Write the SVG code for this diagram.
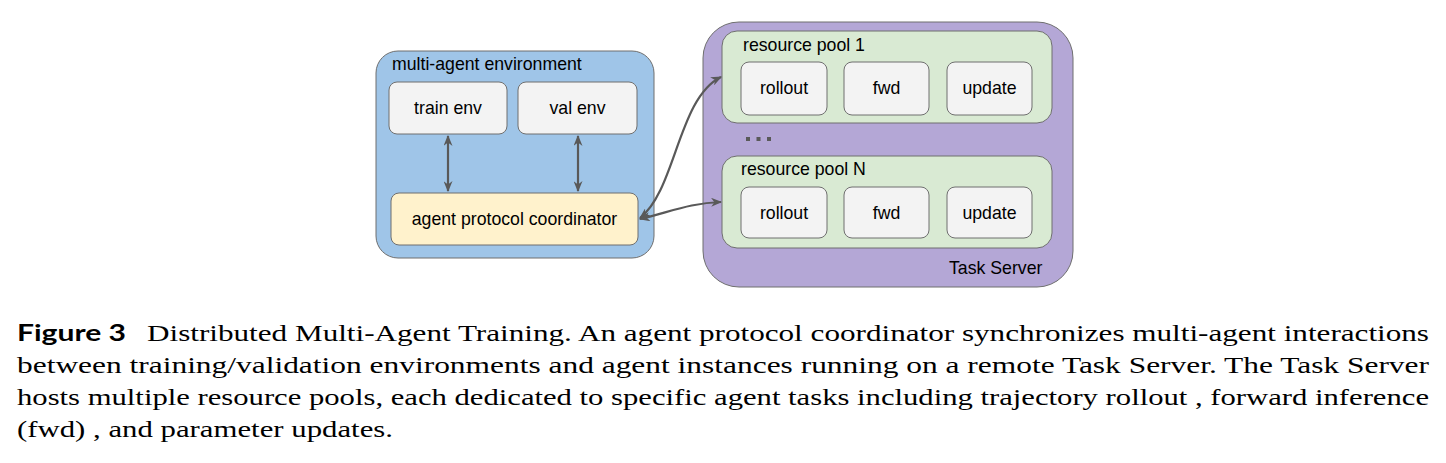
<svg xmlns="http://www.w3.org/2000/svg" width="1446" height="463" viewBox="0 0 1446 463">
<style>
.lbl{font-family:"Liberation Sans",Arial,sans-serif;font-size:17.7px;fill:#000}
.ctr{text-anchor:middle}
.box{fill:#f3f3f3;stroke:#6f6f6f;stroke-width:1}
.cap{font-family:"Liberation Serif","Times New Roman",serif;font-size:23px;fill:#000}
.conn{fill:none;stroke:#595959;stroke-width:2.2}
</style>
<defs>
<marker id="ah" viewBox="0 0 10 10" refX="9" refY="5" markerWidth="11" markerHeight="9" orient="auto-start-reverse" markerUnits="userSpaceOnUse" preserveAspectRatio="none">
<path d="M0,0 L10,5 L0,10 L3,5 Z" fill="#595959"/>
</marker>
</defs>
<rect width="1446" height="463" fill="#fff"/>

<g id="multi-agent-environment">
<rect x="376" y="51" width="278" height="207" rx="22" fill="#9fc5e8" stroke="#6f6f6f" stroke-width="1"/>
<text class="lbl" x="392" y="70">multi-agent environment</text>
</g>
<g id="train-env">
<rect class="box" x="389" y="82" width="118" height="52" rx="8"/>
<text class="lbl ctr" x="448" y="114">train env</text>
</g>
<g id="val-env">
<rect class="box" x="518" y="82" width="119" height="52" rx="8"/>
<text class="lbl ctr" x="577.5" y="114">val env</text>
</g>
<g id="agent-protocol-coordinator">
<rect x="391" y="193" width="247" height="52" rx="8" fill="#fff2cc" stroke="#6f6f6f" stroke-width="1"/>
<text class="lbl ctr" x="514.5" y="225">agent protocol coordinator</text>
</g>

<g id="task-server">
<rect x="703" y="22" width="370" height="265" rx="36" fill="#b4a7d6" stroke="#6f6f6f" stroke-width="1"/>
<text class="lbl" x="949" y="274">Task Server</text>
<rect x="746" y="137" width="4" height="4" fill="#595959"/>
<rect x="756.5" y="137" width="4" height="4" fill="#595959"/>
<rect x="767" y="137" width="4" height="4" fill="#595959"/>
</g>
<g id="resource-pool-1">
<rect x="722" y="31" width="330" height="92" rx="15" fill="#d9ead3" stroke="#6f6f6f" stroke-width="1"/>
<text class="lbl" x="743" y="51">resource pool 1</text>
</g>
<g id="pool1-rollout"><rect class="box" x="741" y="62" width="86" height="53" rx="8"/><text class="lbl ctr" x="784" y="94">rollout</text></g>
<g id="pool1-fwd"><rect class="box" x="844" y="62" width="85" height="53" rx="8"/><text class="lbl ctr" x="886.5" y="94">fwd</text></g>
<g id="pool1-update"><rect class="box" x="947" y="62" width="85" height="53" rx="8"/><text class="lbl ctr" x="989.5" y="94">update</text></g>

<g id="resource-pool-n">
<rect x="722" y="156" width="330" height="92" rx="15" fill="#d9ead3" stroke="#6f6f6f" stroke-width="1"/>
<text class="lbl" x="741" y="175">resource pool N</text>
</g>
<g id="poolN-rollout"><rect class="box" x="741" y="187" width="86" height="51" rx="8"/><text class="lbl ctr" x="784" y="219">rollout</text></g>
<g id="poolN-fwd"><rect class="box" x="844" y="187" width="85" height="51" rx="8"/><text class="lbl ctr" x="886.5" y="219">fwd</text></g>
<g id="poolN-update"><rect class="box" x="947" y="187" width="85" height="51" rx="8"/><text class="lbl ctr" x="989.5" y="219">update</text></g>

<g id="connectors">
<path class="conn" d="M448,136 L448,191" marker-start="url(#ah)" marker-end="url(#ah)"/>
<path class="conn" d="M578,136 L578,191" marker-start="url(#ah)" marker-end="url(#ah)"/>
<path class="conn" d="M640,218 C676,190 678,98 721,77" marker-start="url(#ah)" marker-end="url(#ah)"/>
<path class="conn" d="M640,219 C670,212 690,203 721,202" marker-start="url(#ah)" marker-end="url(#ah)"/>
</g>

<g id="caption">
<text x="17" y="341" font-family="Lato,'Liberation Sans',sans-serif" font-weight="bold" font-size="22" textLength="109" lengthAdjust="spacingAndGlyphs">Figure 3</text>
<text class="cap" x="147" y="341" textLength="1282" lengthAdjust="spacingAndGlyphs">Distributed Multi-Agent Training. An agent protocol coordinator synchronizes multi-agent interactions</text>
<text class="cap" x="17" y="373" textLength="1412" lengthAdjust="spacingAndGlyphs">between training/validation environments and agent instances running on a remote Task Server. The Task Server</text>
<text class="cap" x="17" y="405" textLength="1412" lengthAdjust="spacingAndGlyphs">hosts multiple resource pools, each dedicated to specific agent tasks including trajectory rollout , forward inference</text>
<text class="cap" x="17" y="437" textLength="376" lengthAdjust="spacingAndGlyphs">(fwd) , and parameter updates.</text>
</g>
</svg>
